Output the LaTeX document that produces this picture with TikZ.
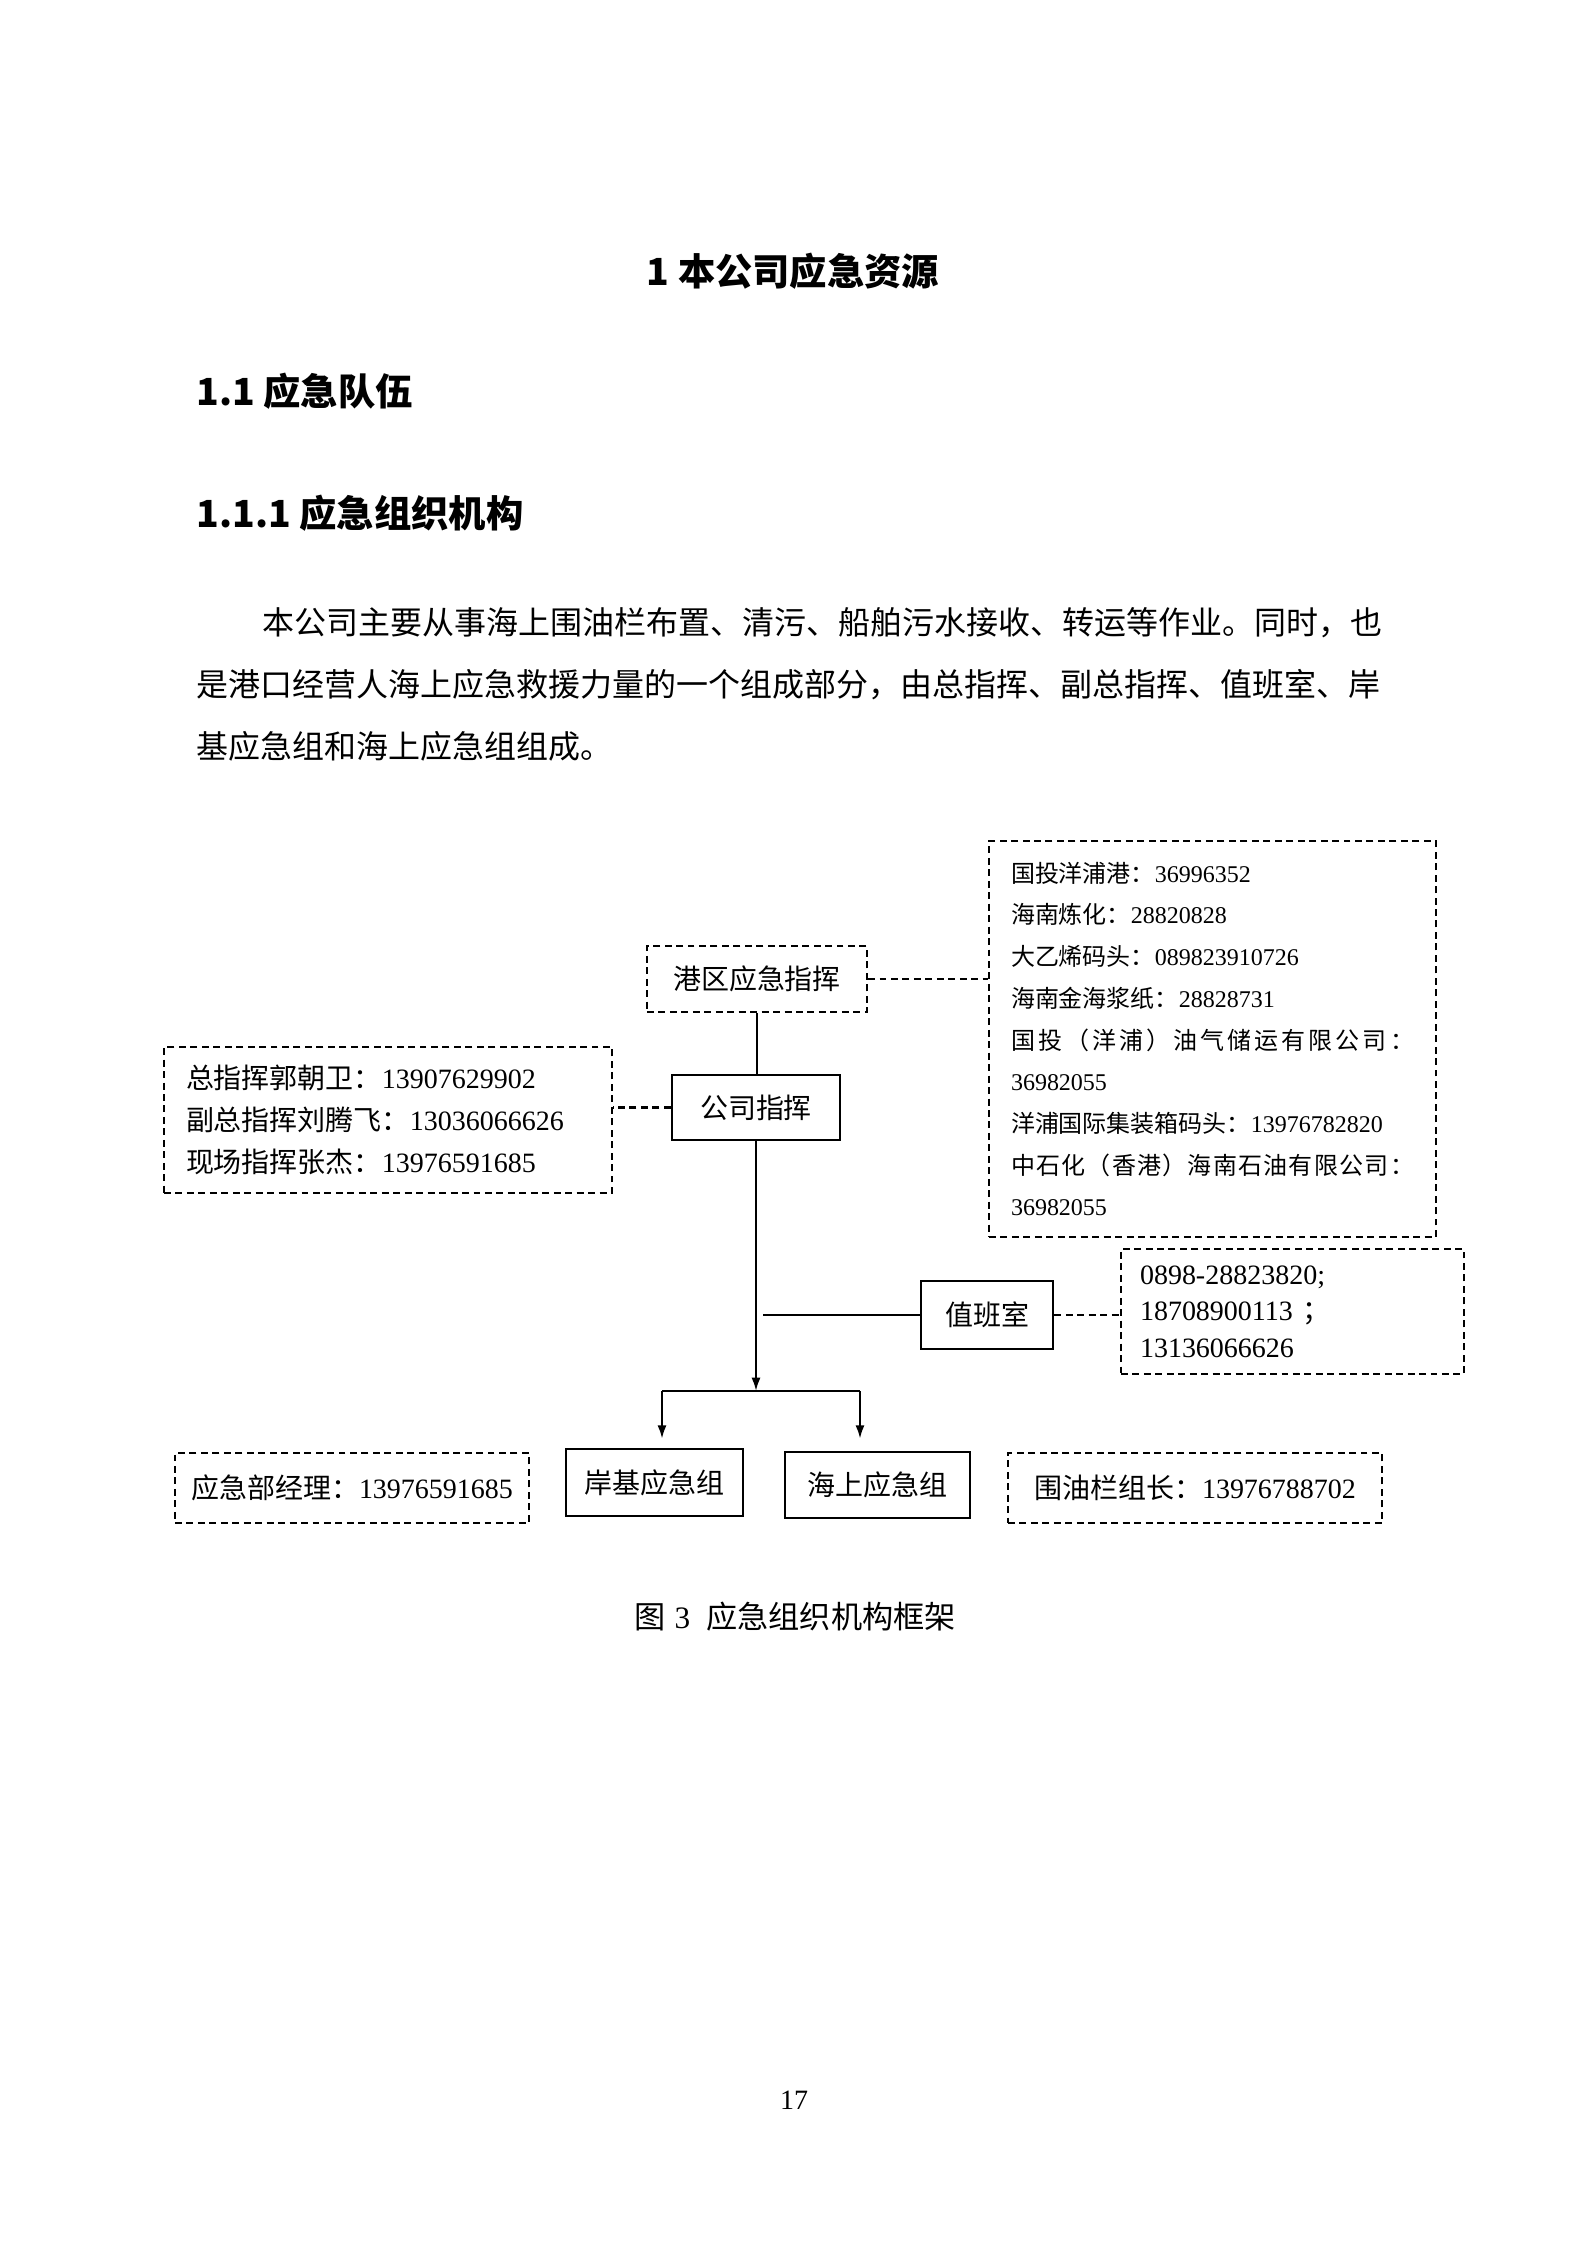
\documentclass[tikz,border=0pt]{standalone}
\usepackage{fontspec}
\usepackage{tikz}
\usetikzlibrary{arrows.meta,calc}
\setmainfont{Liberation Serif}
\newfontfamily\cjk{Noto Sans CJK SC}
\newcommand\zh[1]{{\cjk #1}}
\newlength\pxl
\setlength\pxl{0.3751pt}

\begin{document}
\begin{tikzpicture}[x=0.3751pt,y=-0.3751pt,
		dashbox/.style={draw,dash pattern=on 2.6pt off 1.7pt,line width=0.8pt,inner sep=0pt},
		solidbox/.style={draw,line width=1pt,inner sep=0pt},
		link/.style={line width=0.8pt},
		dashlink/.style={dash pattern=on 2.6pt off 1.7pt,line width=0.8pt},
		tip/.style={-{Latex[length=5pt,width=3.4pt]}},
		body/.style={font=\fontsize{10.5}{15.75}\selectfont},
		heading/.style={inner sep=0pt,font=\fontsize{14}{16}\selectfont\cjk\bfseries},
		prose/.style={anchor=west,inner sep=0pt,font=\fontsize{12}{14}\selectfont\cjk}]
		\useasboundingbox (0,0) rectangle (1587,2245);

		\node[heading] (title) at (793,271) {1 本公司应急资源};
		\node[heading,anchor=west] (sec) at (196,391) {1.1 应急队伍};
		\node[heading,anchor=west] (subsec) at (196,513) {1.1.1 应急组织机构};

		\node[prose] (line1) at (262,623) {本公司主要从事海上围油栏布置、清污、船舶污水接收、转运等作业。同时，也};
		\node[prose] (line2) at (196,685) {是港口经营人海上应急救援力量的一个组成部分，由总指挥、副总指挥、值班室、岸};
		\node[prose] (line3) at (196,746) {基应急组和海上应急组组成。};

		\node[dashbox,body,minimum width=220\pxl,minimum height=66\pxl] (harbour) at (757,979) {\zh{港区应急指挥}};
		\node[solidbox,body,minimum width=168\pxl,minimum height=65\pxl] (company) at (756,1107.5) {\zh{公司指挥}};
		\node[dashbox,body,minimum width=448\pxl,minimum height=146\pxl,text width=404\pxl,align=left] (leaders) at (388,1120)
			{\zh{总指挥郭朝卫：}13907629902\\\zh{副总指挥刘腾飞：}13036066626\\\zh{现场指挥张杰：}13976591685};
		\node[dashbox,font=\fontsize{9}{15.64}\selectfont,minimum width=447\pxl,minimum height=396\pxl,text width=403\pxl,align=left] (contacts) at (1212.5,1039)
			{\zh{国投洋浦港：}36996352\\
			\zh{海南炼化：}28820828\\
			\zh{大乙烯码头：}089823910726\\
			\zh{海南金海浆纸：}28828731\\
			\makebox[403\pxl][s]{\cjk 国\hfill 投\hfill （\hfill 洋\hfill 浦\hfill ）\hfill 油\hfill 气\hfill 储\hfill 运\hfill 有\hfill 限\hfill 公\hfill 司\hfill ：}\\
			36982055\\
			\zh{洋浦国际集装箱码头：}13976782820\\
			\makebox[403\pxl][s]{\cjk 中\hfill 石\hfill 化\hfill （\hfill 香\hfill 港\hfill ）\hfill 海\hfill 南\hfill 石\hfill 油\hfill 有\hfill 限\hfill 公\hfill 司\hfill ：}\\
			36982055};
		\node[solidbox,body,minimum width=132\pxl,minimum height=68\pxl] (duty) at (987,1315) {\zh{值班室}};
		\node[dashbox,font=\fontsize{10.5}{13.7}\selectfont,minimum width=343\pxl,minimum height=125\pxl,text width=305\pxl,align=left] (dutyphone) at (1292.5,1311.5)
			{0898-28823820;\\18708900113 \zh{；}\\13136066626};
		\node[solidbox,body,minimum width=177\pxl,minimum height=67\pxl] (shore) at (654.5,1482.5) {\zh{岸基应急组}};
		\node[solidbox,body,minimum width=185\pxl,minimum height=66\pxl] (sea) at (877.5,1485) {\zh{海上应急组}};
		\node[dashbox,body,minimum width=354\pxl,minimum height=70\pxl] (manager) at (352,1488) {\zh{应急部经理：}13976591685};
		\node[dashbox,body,minimum width=374\pxl,minimum height=70\pxl] (boom) at (1195,1488) {\zh{围油栏组长：}13976788702};

		\coordinate (split) at (757,1391);
		\coordinate (splitL) at (662,1391);
		\coordinate (splitR) at (860,1391);
		\coordinate (dutyjoin) at (763,1315);

		\draw[link] (harbour.south) -- (harbour.south |- company.north);
		\draw[dashlink] (harbour.east) -- (harbour.east -| contacts.west);
		\draw[dashlink] (company.west) -- (company.west -| leaders.east);
		\draw[link,tip] (company.south) -- (company.south |- split);
		\draw[link,line width=1.1pt] (splitL) -- (splitR);
		\draw[link,tip,shorten >=9\pxl] (splitL) -- (splitL |- shore.north);
		\draw[link,tip,shorten >=12\pxl] (splitR) -- (splitR |- sea.north);
		\draw[link] (dutyjoin) -- (duty.west);
		\draw[dashlink] (duty.east) -- (duty.east -| dutyphone.west);

		\node[inner sep=0pt,font=\fontsize{11.7}{14}\selectfont] (caption) at (795,1617) {\zh{图}\hspace{3.5pt}3\hspace{6pt}\zh{应急组织机构框架}};
		\node[inner sep=0pt,font=\fontsize{10.5}{12}\selectfont] (pageno) at (794,2100) {17};
\end{tikzpicture}
\end{document}
